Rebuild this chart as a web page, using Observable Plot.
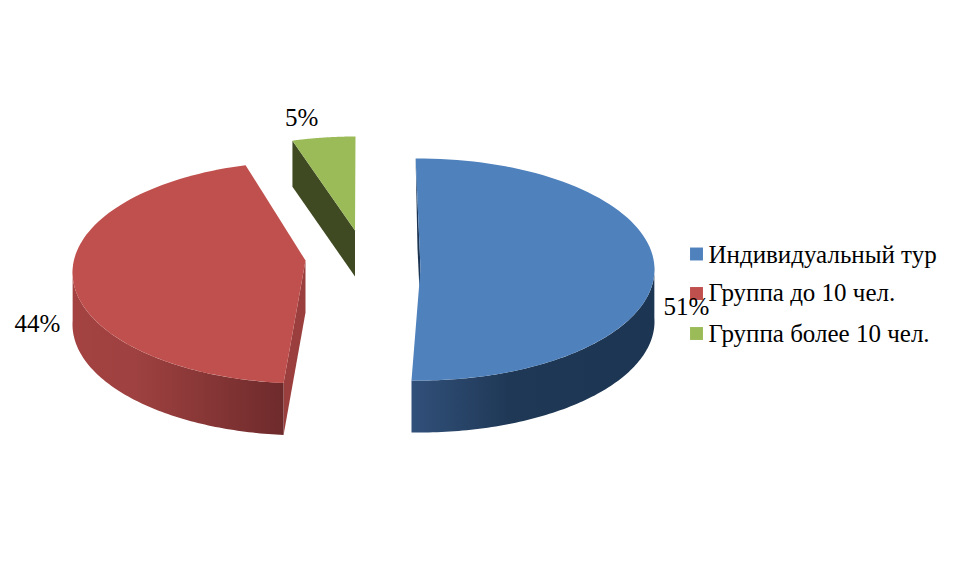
<!DOCTYPE html>
<html><head><meta charset="utf-8">
<style>html,body{margin:0;padding:0;background:#fff}svg{display:block}</style>
<script src="https://cdn.jsdelivr.net/npm/d3@7"></script>
<script src="https://cdn.jsdelivr.net/npm/@observablehq/plot@0.6"></script>
</head><body><div id="chart"></div>
<script>
const categories = ["Индивидуальный тур", "Группа до 10 чел.", "Группа более 10 чел."];
const shares = [51, 44, 5];
const faceColors = ["#4f81bd", "#c0504d", "#9bbb59"];

// Projection of each exploded slice: ellipse, apex, depth and a small perspective correction of the angles.
const projection = [
  {cx: 418, cy: 269, rx: 236, ry: 111, ax: 420, ay: 268, depth: 52, startFix: -0.7, endFix: -1.9, lx: 32, ly: 37},
  {cx: 305, cy: 272, rx: 233, ry: 111, ax: 305, ay: 260, depth: 52, startFix: 1.8, endFix: 3.1, lx: -36, ly: 42},
  {cx: 355, cy: 247, rx: 233, ry: 111, ax: 354.5, ay: 230, depth: 46, startFix: 2.3, endFix: 0, lx: -22, ly: -20}
];
const FONT = "'Liberation Serif','Times New Roman',serif";
const FS = 25;

const total = d3.sum(shares);
let cum = 0;
const slices = shares.map((v, i) => {
  const p = projection[i];
  const start = cum / total * 360 + p.startFix;
  cum += v;
  const end = cum / total * 360 + p.endFix;
  return {...p, start, end, category: categories[i], label: v + "%", index: i};
});
const at = (s, t, dz = 0) => {
  const r = t * Math.PI / 180;
  return {x: s.cx + s.rx * Math.sin(r), y: s.cy - s.ry * Math.cos(r) + dz};
};
const arc = (s, a, b, dz = 0, n = 90) => d3.range(n + 1).map(k => at(s, a + (b - a) * k / n, dz));

const [blue, red, green] = slices;
const face = s => [{x: s.ax, y: s.ay}, ...arc(s, s.start, s.end)].map(d => ({...d, category: s.category}));
const outerWall = (s, a, b) => [...arc(s, a, b), ...arc(s, b, a, s.depth)];

const edgeStart = at(red, red.start), edgeStartLow = at(red, red.start, red.depth);
const greenLeft = at(green, green.start), greenLeftLow = at(green, green.start, green.depth);
const blueTop = at(blue, blue.start);

const polys = [
  {pts: [greenLeft, {x: green.ax, y: green.ay}, {x: green.ax, y: green.ay + green.depth}, greenLeftLow], fill: "#3f4a23"},
  {pts: [{x: red.ax, y: red.ay}, edgeStart, edgeStartLow, {x: red.ax, y: red.ay + red.depth}], fill: "#9b3f3e"},
  {pts: outerWall(red, red.start, 272), fill: "url(#redWall)"},
  {pts: [blueTop, {x: blue.ax, y: blue.ay}, {x: blue.ax - 1, y: blue.ay + 22}, {x: blue.ax - 3, y: blue.ay - 20}], fill: "#1c3552"},
  {pts: outerWall(blue, 88, blue.end), fill: "url(#blueWall)"}
];

const gradient = (id, x1, x2, stops) => {
  const g = d3.create("svg:linearGradient").attr("id", id).attr("gradientUnits", "userSpaceOnUse")
    .attr("x1", x1).attr("x2", x2).attr("y1", 0).attr("y2", 0);
  stops.forEach(([o, c]) => g.append("stop").attr("offset", o).attr("stop-color", c));
  return g.node();
};
const defs = () => {
  const d = d3.create("svg:defs");
  d.node().append(
    gradient("redWall", 72, 284, [[0, "#a34241"], [0.3, "#9e4140"], [1, "#6e2a2b"]]),
    gradient("blueWall", 411, 654, [[0, "#31507a"], [0.4, "#1f3856"], [1, "#1c3552"]])
  );
  return d.node();
};

const wallMark = p => Plot.line(p.pts, {x: "x", y: "y", fill: p.fill, stroke: "none"});
const faceMark = s => Plot.line(face(s), {x: "x", y: "y", fill: "category", stroke: "none"});

const legendX = 696, legendTextX = 708;
const swatchRows = [253.5, 293, 333];
const textRows = [254, 292.5, 333.5];
const legend = categories.map((c, i) => ({category: c, y: swatchRows[i], ty: textRows[i]}));
const labels = slices.map(s => {
  const m = at(s, (s.start + s.end) / 2);
  return {x: m.x + s.lx, y: m.y + s.ly, label: s.label};
});

const chart = Plot.plot({
  width: 957, height: 585,
  margin: 0,
  x: {domain: [0, 957], range: [0, 957], axis: null},
  y: {domain: [0, 585], range: [0, 585], axis: null},
  color: {domain: categories, range: faceColors},
  style: {background: "#fff"},
  marks: [
    defs,
    wallMark(polys[0]), faceMark(green),
    wallMark(polys[1]), wallMark(polys[2]), faceMark(red),
    wallMark(polys[3]), wallMark(polys[4]), faceMark(blue),
    Plot.dot(legend, {x: () => legendX, y: "y", symbol: "square", r: 7.3, fill: "category", stroke: "none"}),
    Plot.text(legend, {x: () => legendTextX, y: "ty", text: "category", textAnchor: "start", fontFamily: FONT, fontSize: FS, fill: "#000"}),
    Plot.text(labels, {x: "x", y: "y", text: "label", fontFamily: FONT, fontSize: FS, fill: "#000"})
  ]
});
document.getElementById("chart").append(chart);
</script></body></html>
